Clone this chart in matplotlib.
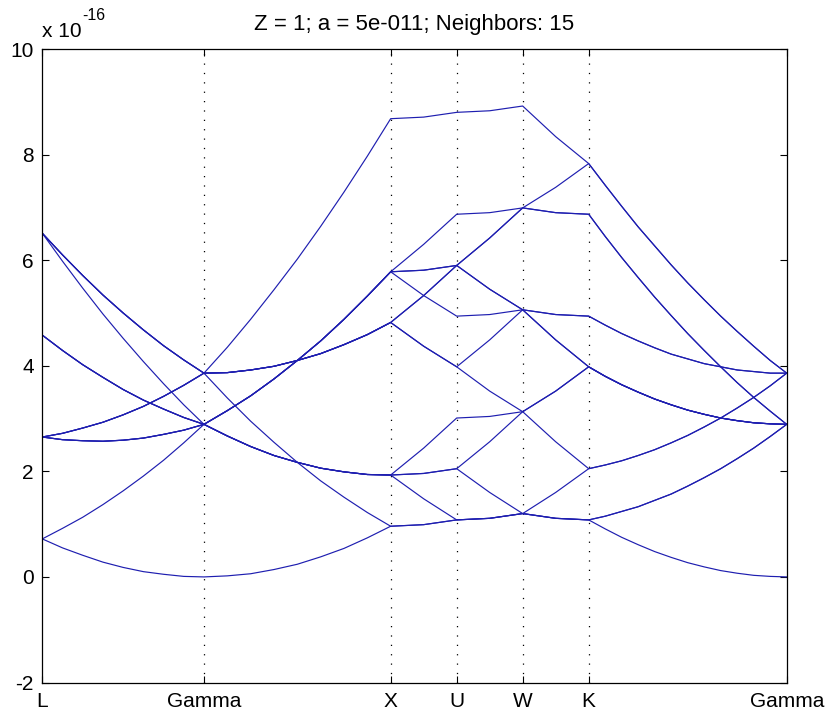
import matplotlib
matplotlib.use('Agg')
import matplotlib.pyplot as plt
from matplotlib.transforms import offset_copy

# k-path distance (units of 2*pi/a) at sampled points
k_path = [0.0, 0.1083, 0.2165, 0.3248, 0.4330, 0.5413, 0.6495, 0.7578, 0.8660,
          0.9910, 1.1160, 1.2410, 1.3660, 1.4910, 1.6160, 1.7410, 1.8660,
          2.0428, 2.2196, 2.3964, 2.5731, 2.7499, 2.9267,
          3.0151, 3.1035, 3.1919, 3.2802, 3.3686, 3.4570, 3.5454, 3.6338,
          3.7222, 3.8106, 3.8990, 3.9873]

sym_pos = [0.0, 0.8660, 1.8660, 2.2196, 2.5731, 2.9267, 3.9873]
sym_labels = ['L', 'Gamma', 'X', 'U', 'W', 'K', 'Gamma']
y_ticks = [-2, 0, 2, 4, 6, 8, 10]

# band energies (x 1e-16)
e_000 = [0.72, 0.55, 0.41, 0.28, 0.18, 0.10, 0.05, 0.01, 0.00,
         0.02, 0.06, 0.14, 0.24, 0.38, 0.54, 0.74, 0.96,
         0.99, 1.08, 1.11, 1.20, 1.11, 1.08,
         0.91, 0.75, 0.61, 0.48, 0.37, 0.27, 0.19, 0.12, 0.07, 0.03, 0.01, 0.00]
e_111 = [6.51, 5.98, 5.47, 4.98, 4.52, 4.08, 3.66, 3.26, 2.89,
         3.15, 3.43, 3.75, 4.10, 4.47, 4.88, 5.32, 5.78,
         6.30, 6.87, 6.90, 6.99, 6.90, 6.87,
         6.45, 6.05, 5.67, 5.30, 4.95, 4.61, 4.29, 3.98, 3.68, 3.40, 3.14, 2.89]
e_11m = [4.58, 4.29, 4.02, 3.78, 3.55, 3.35, 3.18, 3.02, 2.89,
         3.15, 3.43, 3.75, 4.10, 4.47, 4.88, 5.32, 5.78,
         5.81, 5.90, 6.42, 6.99, 6.90, 6.87,
         6.45, 6.05, 5.67, 5.30, 4.95, 4.61, 4.29, 3.98, 3.68, 3.40, 3.14, 2.89]
e_1m1 = [4.58, 4.29, 4.02, 3.78, 3.55, 3.35, 3.18, 3.02, 2.89,
         3.15, 3.43, 3.75, 4.10, 4.47, 4.88, 5.32, 5.78,
         5.81, 5.90, 5.45, 5.06, 4.49, 3.98,
         3.80, 3.64, 3.50, 3.37, 3.26, 3.16, 3.08, 3.01, 2.96, 2.92, 2.90, 2.89]
e_1mm = [2.65, 2.60, 2.58, 2.57, 2.59, 2.63, 2.70, 2.78, 2.89,
         3.15, 3.43, 3.75, 4.10, 4.47, 4.88, 5.32, 5.78,
         5.33, 4.94, 4.97, 5.06, 4.49, 3.98,
         3.80, 3.64, 3.50, 3.37, 3.26, 3.16, 3.08, 3.01, 2.96, 2.92, 2.90, 2.89]
e_m11 = [4.58, 4.29, 4.02, 3.78, 3.55, 3.35, 3.18, 3.02, 2.89,
         2.67, 2.47, 2.30, 2.17, 2.06, 1.99, 1.94, 1.93,
         2.44, 3.01, 3.04, 3.13, 3.52, 3.98,
         3.80, 3.64, 3.50, 3.37, 3.26, 3.16, 3.08, 3.01, 2.96, 2.92, 2.90, 2.89]
e_m1m = [2.65, 2.60, 2.58, 2.57, 2.59, 2.63, 2.70, 2.78, 2.89,
         2.67, 2.47, 2.30, 2.17, 2.06, 1.99, 1.94, 1.93,
         1.96, 2.05, 2.56, 3.13, 3.52, 3.98,
         3.80, 3.64, 3.50, 3.37, 3.26, 3.16, 3.08, 3.01, 2.96, 2.92, 2.90, 2.89]
e_mm1 = [2.65, 2.60, 2.58, 2.57, 2.59, 2.63, 2.70, 2.78, 2.89,
         2.67, 2.47, 2.30, 2.17, 2.06, 1.99, 1.94, 1.93,
         1.96, 2.05, 1.60, 1.20, 1.11, 1.08,
         1.15, 1.24, 1.33, 1.45, 1.57, 1.72, 1.88, 2.05, 2.24, 2.44, 2.66, 2.89]
e_mmm = [0.72, 0.92, 1.13, 1.37, 1.63, 1.91, 2.21, 2.54, 2.89,
         2.67, 2.47, 2.30, 2.17, 2.06, 1.99, 1.94, 1.93,
         1.48, 1.08, 1.11, 1.20, 1.11, 1.08,
         1.15, 1.24, 1.33, 1.45, 1.57, 1.72, 1.88, 2.05, 2.24, 2.44, 2.66, 2.89]
e_200 = [6.51, 6.10, 5.71, 5.34, 5.00, 4.68, 4.38, 4.11, 3.86,
         4.35, 4.88, 5.44, 6.02, 6.64, 7.29, 7.97, 8.68,
         8.71, 8.80, 8.83, 8.92, 8.34, 7.83,
         7.42, 7.02, 6.63, 6.27, 5.91, 5.57, 5.25, 4.94, 4.65, 4.37, 4.10, 3.86]
e_m200 = [2.65, 2.72, 2.82, 2.93, 3.07, 3.23, 3.42, 3.63, 3.86,
          3.39, 2.95, 2.55, 2.17, 1.82, 1.51, 1.22, 0.96,
          0.99, 1.08, 1.11, 1.20, 1.60, 2.05,
          2.12, 2.20, 2.30, 2.41, 2.54, 2.68, 2.84, 3.01, 3.20, 3.40, 3.62, 3.86]
e_020 = [6.51, 6.10, 5.71, 5.34, 5.00, 4.68, 4.38, 4.11, 3.86,
         3.87, 3.92, 3.99, 4.10, 4.23, 4.40, 4.59, 4.82,
         5.33, 5.90, 6.42, 6.99, 7.38, 7.83,
         7.42, 7.02, 6.63, 6.27, 5.91, 5.57, 5.25, 4.94, 4.65, 4.37, 4.10, 3.86]
e_0m20 = [2.65, 2.72, 2.82, 2.93, 3.07, 3.23, 3.42, 3.63, 3.86,
          3.87, 3.92, 3.99, 4.10, 4.23, 4.40, 4.59, 4.82,
          4.37, 3.98, 3.52, 3.13, 2.56, 2.05,
          2.12, 2.20, 2.30, 2.41, 2.54, 2.68, 2.84, 3.01, 3.20, 3.40, 3.62, 3.86]
e_002 = [6.51, 6.10, 5.71, 5.34, 5.00, 4.68, 4.38, 4.11, 3.86,
         3.87, 3.92, 3.99, 4.10, 4.23, 4.40, 4.59, 4.82,
         5.33, 5.90, 5.45, 5.06, 4.97, 4.94,
         4.77, 4.61, 4.47, 4.34, 4.22, 4.13, 4.04, 3.98, 3.92, 3.89, 3.86, 3.86]
e_00m2 = [2.65, 2.72, 2.82, 2.93, 3.07, 3.23, 3.42, 3.63, 3.86,
          3.87, 3.92, 3.99, 4.10, 4.23, 4.40, 4.59, 4.82,
          4.37, 3.98, 4.49, 5.06, 4.97, 4.94,
          4.77, 4.61, 4.47, 4.34, 4.22, 4.13, 4.04, 3.98, 3.92, 3.89, 3.86, 3.86]

bands = [e_000, e_111, e_11m, e_1m1, e_1mm, e_m11, e_m1m, e_mm1, e_mmm,
         e_200, e_m200, e_020, e_0m20, e_002, e_00m2]

title = 'Z = 1; a = 5e-011; Neighbors: 15'

plt.rcParams['font.family'] = ['Liberation Sans', 'DejaVu Sans']

fig = plt.figure(figsize=(8.3, 7.2), dpi=100)
ax = fig.add_axes([0.05096, 0.05208, 0.89687, 0.87986])

for e in bands:
    ax.plot(k_path, e, color='#1e1eb0', lw=0.85, solid_joinstyle='round')

for xp in sym_pos[1:-1]:
    ax.axvline(xp, color='k', lw=0.9, linestyle=(0, (1, 6.5)), zorder=0.5)

ax.set_xlim(sym_pos[0], sym_pos[-1])
ax.set_ylim(-2, 10)
ax.set_xticks(sym_pos)
ax.set_xticklabels(sym_labels)
ax.set_yticks(y_ticks)
ax.set_yticklabels([str(v) for v in y_ticks])
ax.tick_params(direction='in', length=5, width=0.8, top=True, right=True,
               labelsize=15, colors='k')
ax.tick_params(axis='y', pad=6)
ax.tick_params(axis='x', pad=7)
for s in ax.spines.values():
    s.set_linewidth(0.9)
    s.set_color('k')

ax.set_title(title, fontsize=16, pad=14)
ax.text(0.0, 1.019, 'x 10', transform=ax.transAxes, ha='left',
        va='baseline', fontsize=15)
exp_tr = offset_copy(ax.transAxes, fig=fig, x=40, y=0, units='dots')
ax.text(0.0, 1.0458, '-16', transform=exp_tr, ha='left', va='baseline',
        fontsize=11.5)

fig.savefig('out.png', dpi=100)
